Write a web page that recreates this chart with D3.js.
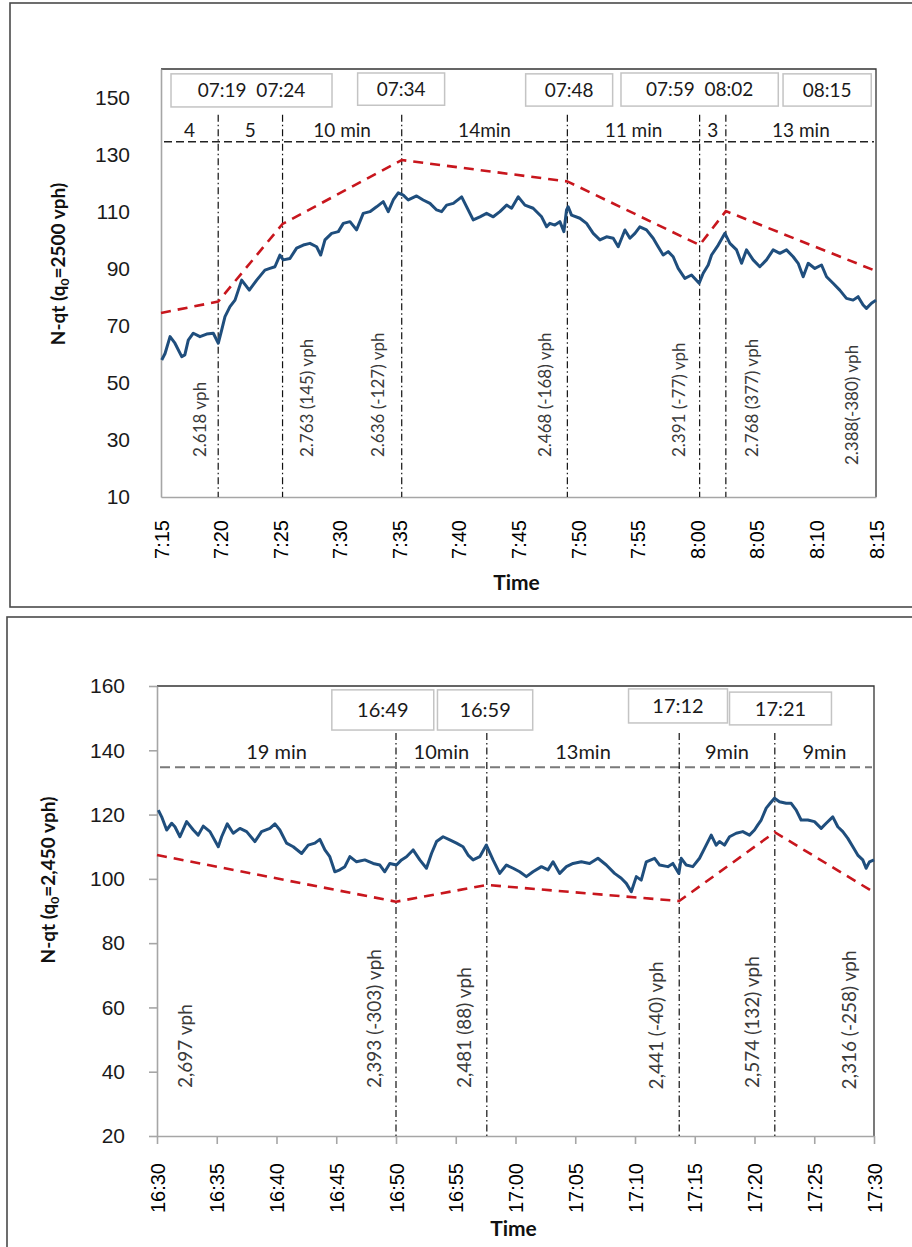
<!DOCTYPE html>
<html>
<head>
<meta charset="utf-8">
<script src="https://cdn.jsdelivr.net/npm/d3@7"></script>
<style>
  body { margin: 0; background: #fff; }
  svg { display: block; font-family: Lato, "Open Sans", sans-serif; }
</style>
</head>
<body>
<svg id="chart" width="912" height="1247"></svg>
<script>
// ---- morning panel (minutes after 7:15) ----
var amMinutes = [0.06,0.34,0.76,1.17,1.74,2.0,2.29,2.71,3.27,3.83,4.39,4.81,5.09,5.37,5.79,6.21,6.49,6.77,7.41,8.03,8.72,9.14,9.56,9.98,10.26,10.82,11.38,11.94,12.5,13.06,13.4,13.76,14.32,14.88,15.3,15.86,16.41,16.97,17.53,18.09,18.65,19.07,19.49,19.91,20.33,20.75,21.45,22.0,22.57,23.13,23.55,23.97,24.53,25.23,25.65,26.2,26.76,27.32,27.88,28.44,29.0,29.42,29.98,30.54,31.23,31.94,32.36,32.63,33.05,33.47,33.81,34.03,34.17,34.45,35.15,35.71,36.27,36.83,37.39,37.95,38.37,38.93,39.35,39.77,40.18,40.74,41.3,41.72,42.14,42.56,42.98,43.4,43.96,44.52,45.16,45.5,45.92,46.2,46.76,47.32,47.74,48.3,48.72,49.13,49.69,50.25,50.81,51.37,51.93,52.49,53.05,53.47,53.89,54.31,54.87,55.43,55.85,56.4,56.96,57.52,58.08,58.5,58.92,59.2,59.62,60];
var amNqt = [58.0,60.3,66.2,63.9,59.2,59.8,65.0,67.4,66.2,67.1,67.4,63.9,68.5,73.2,76.7,79.0,82.5,86.0,82.5,86.0,89.5,90.1,90.7,94.8,93.1,93.6,97.2,98.3,98.9,97.7,94.8,100.1,102.4,103.0,105.9,106.5,103.6,109.4,110.0,111.7,113.5,110.0,114.1,116.6,115.8,114.1,115.5,114.1,112.9,110.6,110.0,112.3,112.9,115.2,111.7,107.1,108.2,109.4,108.2,110.0,112.3,111.2,115.2,112.3,111.2,108.2,104.7,105.9,105.3,106.5,103.0,110.6,111.7,108.8,107.7,105.9,102.4,100.1,101.2,100.7,97.7,103.6,100.7,102.4,104.7,103.6,100.7,97.7,94.8,96.0,94.2,90.1,86.6,87.8,84.9,88.4,91.3,94.8,98.3,102.4,98.9,96.6,91.9,96.6,93.1,90.7,93.1,96.6,95.4,96.6,94.2,91.9,87.2,91.9,90.1,91.3,87.2,84.9,82.5,79.6,79.0,80.2,77.3,76.1,77.9,79.0];
var amRefMinutes = [0, 4.8, 10.2, 20.2, 34.1, 45.2, 47.4, 60];
var amRefNqt = [74.5, 78.5, 105.7, 128.1, 120.6, 98.3, 110.2, 89.2];
var amBreaks = [4.8, 10.2, 20.2, 34.1, 45.2, 47.4];
var amSegments = ['4', '5', '10 min', '14min', '11 min', '3', '13 min'];
var amFlows = ['2.618 vph', '2.763 (145) vph', '2.636 (-127) vph', '2.468 (-168) vph', '2.391 (-77) vph', '2.768 (377) vph', '2.388(-380) vph'];
var amClock = ['07:19  07:24', '07:34', '07:48', '07:59  08:02', '08:15'];
var amYTicks = [10, 30, 50, 70, 90, 110, 130, 150];

// ---- evening panel (minutes after 16:30) ----
var pmMinutes = [0.11,0.39,0.81,1.23,1.5,1.92,2.48,3.04,3.45,3.87,4.43,5.13,5.41,5.88,6.38,6.94,7.5,8.19,8.75,9.45,9.87,10.28,10.84,11.4,12.1,12.65,13.21,13.63,14.05,14.46,14.88,15.3,15.72,16.14,16.7,17.39,18.09,18.65,19.06,19.48,20.04,20.46,20.88,21.43,21.99,22.55,22.97,23.39,23.94,24.5,25.06,25.61,26.03,26.45,27.01,27.56,28.12,28.68,29.24,29.8,30.35,30.91,31.46,32.17,32.72,33.14,33.7,34.26,34.82,35.51,36.2,36.9,37.6,38.29,38.85,39.27,39.69,40.11,40.52,40.94,41.64,42.06,42.75,43.17,43.67,43.87,44.29,44.84,45.4,45.82,46.38,46.79,47.07,47.49,47.91,48.47,49.02,49.58,50.0,50.28,50.56,50.98,51.31,51.67,52.09,52.65,53.07,53.49,53.9,54.46,55.02,55.58,56.0,56.55,56.97,57.39,57.81,58.23,58.64,59.06,59.34,59.62,60];
var pmNqt = [121.4,119.3,115.2,117.3,116.2,113.1,117.8,115.2,113.6,116.4,114.7,110.0,113.1,117.1,114.2,115.7,114.7,111.6,114.7,115.7,117.1,115.2,111.1,110.0,107.9,110.5,111.1,112.3,109.0,106.9,102.2,102.8,103.8,106.9,105.3,105.9,104.8,104.3,102.2,104.8,104.3,105.9,106.9,109.0,105.9,103.3,107.9,111.6,113.1,112.1,111.1,110.0,107.4,105.9,106.9,110.5,105.9,101.7,104.3,103.3,102.2,100.7,102.2,103.8,102.8,105.3,101.7,103.8,104.8,105.3,104.8,106.4,104.3,101.7,100.2,98.6,96.0,100.7,99.6,105.3,106.4,104.3,103.8,104.8,101.7,106.4,104.3,103.8,106.4,109.5,113.6,110.5,111.6,110.5,113.1,114.2,114.7,113.6,115.2,116.8,118.3,122.0,123.5,125.1,124.0,123.5,123.5,121.4,118.3,118.3,117.8,115.7,117.3,119.3,116.2,114.7,112.6,110.0,107.4,105.9,103.3,105.3,105.9];
var pmRefMinutes = [0, 20, 27.6, 43.7, 51.7, 60];
var pmRefNqt = [107.4, 92.9, 98.1, 93.1, 114.5, 95.8];
var pmBreaks = [20, 27.6, 43.7, 51.7];
var pmSegments = ['19 min', '10min', '13min', '9min', '9min'];
var pmFlows = ['2,697 vph', '2,393 (-303) vph', '2,481 (88) vph', '2,441 (-40) vph', '2,574 (132) vph', '2,316 (-258) vph'];
var pmClock = ['16:49', '16:59', '17:12', '17:21'];
var pmYTicks = [20, 40, 60, 80, 100, 120, 140, 160];

var svg = d3.select('#chart');

var panels = [
    {
        frame: [10, 3, 910, 604],
        start: [7, 15], left: 161, right: 876, top: 69, bottom: 497,
        yDomain: [10, 160], yTicks: amYTicks, tick: 0, pad: 31, xLabelGap: 23,
        minutes: amMinutes, nqt: amNqt, refMinutes: amRefMinutes, refNqt: amRefNqt,
        breaks: amBreaks, breakTop: 144, segments: amSegments, segLine: 134.5, segSize: 19, segLift: 5,
        segLineColor: '#222', segLineWidth: 1.3, segDash: '8,4',
        flows: amFlows, flowAt: [3.27, 12.25, 18.2, 32.2, 43.46, 49.58, 57.97],
        flowBase: [24, 24, 24, 24, 24, 24, 21.2], flowSize: 17,
        clock: amClock,
        boxes: [[0.84, 14.35, 158.3, 146.7], [16.5, 23.8, 158.6, 147.3], [30.6, 37.9, 158.3, 147.0], [38.6, 51.8, 158.6, 147.0], [52.2, 59.6, 158.3, 147.0]],
        clockSize: 19,
        yTitle: ['N-qt (q', '0', '=2500 vph)'], yTitleX: 58, yTitleY: 264,
        xTitleY: 590
    },
    {
        frame: [7, 617, 913, 640],
        start: [16, 30], left: 157, right: 874, top: 686, bottom: 1136,
        yDomain: [20, 160], yTicks: pmYTicks, tick: 8, pad: 24, xLabelGap: 27,
        minutes: pmMinutes, nqt: pmNqt, refMinutes: pmRefMinutes, refNqt: pmRefNqt,
        breaks: pmBreaks, breakTop: 145.4, segments: pmSegments, segLine: 134.7, segSize: 20, segLift: 8,
        segLineColor: '#7a7a7a', segLineWidth: 2, segDash: '10,5',
        flows: pmFlows, flowAt: [2.34, 18.2, 25.75, 41.8, 49.8, 57.9],
        flowBase: [34.9, 34.9, 34.9, 34.5, 34.9, 34.5], flowSize: 19,
        clock: pmClock,
        boxes: [[14.63, 23.16, 158.8, 146.3], [23.47, 31.44, 158.8, 146.3], [39.46, 47.74, 159.1, 148.5], [47.91, 56.44, 158.1, 147.9]],
        clockSize: 20,
        yTitle: ['N-qt (q', '0', '=2,450 vph)'], yTitleX: 48, yTitleY: 880,
        xTitleY: 1236
    }
];

panels.forEach(drawPanel);

function drawPanel(p) {
    var g = svg.append('g');

    // outer frame
    g.append('rect')
        .attr('x', p.frame[0]).attr('y', p.frame[1])
        .attr('width', p.frame[2]).attr('height', p.frame[3])
        .attr('fill', 'none').attr('stroke', '#4a4a4a').attr('stroke-width', 1.6);

    var t0 = new Date(2000, 0, 1, p.start[0], p.start[1]);
    var at = function (m) { return new Date(t0.getTime() + m * 60000); };

    var x = d3.scaleTime().domain([t0, at(60)]).range([p.left, p.right]);
    var y = d3.scaleLinear().domain(p.yDomain).range([p.bottom, p.top]);

    // top and right plot border
    g.append('path')
        .attr('d', 'M' + p.left + ',' + p.top + 'H' + p.right + 'V' + p.bottom)
        .attr('fill', 'none').attr('stroke', '#333').attr('stroke-width', 1.3);

    // y axis
    var ya = g.append('g')
        .attr('transform', 'translate(' + p.left + ',0)')
        .call(d3.axisLeft(y).tickValues(p.yTicks).tickSize(p.tick).tickSizeOuter(0).tickPadding(p.pad));
    ya.select('.domain').attr('stroke', '#a6a6a6').attr('stroke-width', 1.6);
    ya.selectAll('.tick line').attr('stroke', '#a6a6a6').attr('stroke-width', 1.6);
    ya.selectAll('text').style('font-size', '21px').attr('fill', '#1a1a1a');

    // x axis
    var xa = g.append('g')
        .attr('transform', 'translate(0,' + p.bottom + ')')
        .call(d3.axisBottom(x).ticks(d3.timeMinute.every(5)).tickFormat(d3.timeFormat('%-H:%M'))
            .tickSize(p.tick).tickSizeOuter(0));
    xa.select('.domain').attr('stroke', '#a6a6a6').attr('stroke-width', 1.6);
    xa.selectAll('.tick line').attr('stroke', '#a6a6a6').attr('stroke-width', 1.6);
    xa.selectAll('text')
        .attr('transform', 'rotate(-90)')
        .attr('x', -p.xLabelGap).attr('y', 0).attr('dy', '0.35em')
        .style('text-anchor', 'end').style('font-size', '20px').attr('fill', '#000');

    // clock boxes
    var bx = g.selectAll('.clockbox').data(p.clock).enter().append('g').attr('class', 'clockbox');
    bx.append('rect')
        .attr('x', function (d, i) { return x(at(p.boxes[i][0])); })
        .attr('y', function (d, i) { return y(p.boxes[i][2]); })
        .attr('width', function (d, i) { return x(at(p.boxes[i][1])) - x(at(p.boxes[i][0])); })
        .attr('height', function (d, i) { return y(p.boxes[i][3]) - y(p.boxes[i][2]); })
        .attr('fill', '#fff').attr('stroke', '#c4c4c4').attr('stroke-width', 1.5);
    bx.append('text')
        .attr('x', function (d, i) { return (x(at(p.boxes[i][0])) + x(at(p.boxes[i][1]))) / 2; })
        .attr('y', function (d, i) { return (y(p.boxes[i][2]) + y(p.boxes[i][3])) / 2; })
        .attr('dy', '0.36em')
        .attr('text-anchor', 'middle')
        .style('white-space', 'pre')
        .style('font-size', p.clockSize + 'px')
        .attr('fill', '#1a1a1a')
        .text(function (d) { return d; });

    // segment line and durations
    g.append('line')
        .attr('x1', p.left + 3).attr('x2', p.right - 2)
        .attr('y1', y(p.segLine)).attr('y2', y(p.segLine))
        .attr('stroke', p.segLineColor).attr('stroke-width', p.segLineWidth)
        .attr('stroke-dasharray', p.segDash);

    var edges = [0].concat(p.breaks, [60]);
    g.selectAll('.seg').data(p.segments).enter().append('text')
        .attr('class', 'seg')
        .attr('x', function (d, i) { return x(at((edges[i] + edges[i + 1]) / 2)); })
        .attr('y', y(p.segLine) - p.segLift)
        .attr('text-anchor', 'middle')
        .style('font-size', p.segSize + 'px')
        .attr('fill', '#1a1a1a')
        .text(function (d) { return d; });

    // break lines
    g.selectAll('.brk').data(p.breaks).enter().append('line')
        .attr('class', 'brk')
        .attr('x1', function (d) { return x(at(d)); })
        .attr('x2', function (d) { return x(at(d)); })
        .attr('y1', y(p.breakTop)).attr('y2', p.bottom)
        .attr('stroke', '#111').attr('stroke-width', 1.2)
        .attr('stroke-dasharray', '7,3,1.5,3');

    // flow annotations
    g.selectAll('.flow').data(p.flows).enter().append('text')
        .attr('class', 'flow')
        .attr('transform', function (d, i) {
            return 'translate(' + x(at(p.flowAt[i])) + ',' + y(p.flowBase[i]) + ') rotate(-90)';
        })
        .attr('dy', '0.35em')
        .style('font-size', p.flowSize + 'px')
        .attr('fill', '#3a3a3a')
        .text(function (d) { return d; });

    // reference (dashed red) line
    var refLine = d3.line()
        .x(function (d, i) { return x(at(p.refMinutes[i])); })
        .y(function (d) { return y(d); });
    g.append('path')
        .attr('d', refLine(p.refNqt))
        .attr('fill', 'none').attr('stroke', '#c8161d').attr('stroke-width', 2.6)
        .attr('stroke-dasharray', '10,7');

    // N-qt line
    var nLine = d3.line()
        .x(function (d, i) { return x(at(p.minutes[i])); })
        .y(function (d) { return y(d); });
    g.append('path')
        .attr('d', nLine(p.nqt))
        .attr('fill', 'none').attr('stroke', '#1f4e7d').attr('stroke-width', 3)
        .attr('stroke-linejoin', 'round');

    // titles
    g.append('text')
        .attr('x', (p.left + p.right) / 2 - 2).attr('y', p.xTitleY)
        .attr('text-anchor', 'middle')
        .style('font-size', '21px').style('font-weight', 'bold')
        .attr('fill', '#111')
        .text('Time');

    var yt = g.append('text')
        .attr('transform', 'translate(' + p.yTitleX + ',' + p.yTitleY + ') rotate(-90)')
        .attr('dy', '0.35em')
        .attr('text-anchor', 'middle')
        .style('font-size', '19px').style('font-weight', 'bold')
        .attr('fill', '#111');
    yt.append('tspan').text(p.yTitle[0]);
    yt.append('tspan').attr('dy', '4').style('font-size', '12px').text(p.yTitle[1]);
    yt.append('tspan').attr('dy', '-4').text(p.yTitle[2]);
}
</script>
</body>
</html>
